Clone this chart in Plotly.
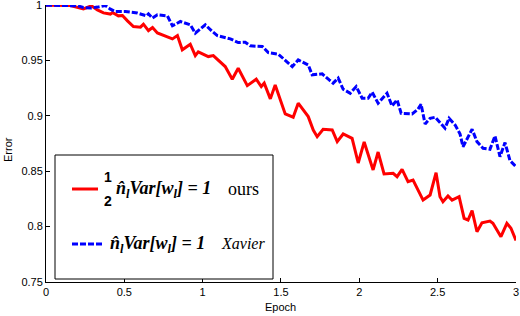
import plotly.graph_objects as go

# ---- data ----
red_epoch = [0.0, 0.156, 0.239, 0.290, 0.328, 0.367, 0.411, 0.424, 0.462, 0.488, 0.520, 0.558,
             0.603, 0.622, 0.654, 0.680, 0.711, 0.775, 0.807, 0.839, 0.870, 0.921, 0.953, 0.972,
             1.036, 1.068, 1.144, 1.189, 1.227, 1.285, 1.342, 1.374, 1.393, 1.432, 1.463, 1.527,
             1.578, 1.610, 1.674, 1.706, 1.731, 1.769, 1.827, 1.859, 1.897, 1.954, 1.993, 2.031,
             2.088, 2.120, 2.158, 2.216, 2.241, 2.273, 2.311, 2.343, 2.407, 2.452, 2.490, 2.515,
             2.534, 2.566, 2.592, 2.637, 2.669, 2.694, 2.720, 2.751, 2.783, 2.834, 2.853, 2.904,
             2.942, 2.968, 3.0]
red_error = [1.000, 0.9997, 0.9967, 0.9995, 0.9958, 0.9931, 0.9920, 0.9934, 0.9904, 0.9907, 0.9859, 0.9807,
             0.9802, 0.9829, 0.9771, 0.9798, 0.9750, 0.9714, 0.9696, 0.9726, 0.9597, 0.9648, 0.9545, 0.9579,
             0.9536, 0.9545, 0.9446, 0.9332, 0.9431, 0.9274, 0.9332, 0.9265, 0.9296, 0.9154, 0.9280, 0.9018,
             0.8988, 0.9115, 0.8994, 0.8873, 0.8813, 0.8880, 0.8873, 0.8768, 0.8837, 0.8798, 0.8575, 0.8765,
             0.8512, 0.8674, 0.8476, 0.8482, 0.8451, 0.8518, 0.8406, 0.8421, 0.8240, 0.8286, 0.8487, 0.8270,
             0.8225, 0.8277, 0.8240, 0.8270, 0.8075, 0.8060, 0.8144, 0.7954, 0.8035, 0.8051, 0.8030, 0.7909,
             0.8030, 0.7985, 0.7875]

blue_epoch = [0.0, 0.201, 0.239, 0.284, 0.328, 0.379, 0.411, 0.443, 0.507, 0.583, 0.641, 0.654,
              0.679, 0.711, 0.775, 0.807, 0.858, 0.921, 0.953, 1.017, 1.062, 1.094, 1.177, 1.227,
              1.272, 1.304, 1.381, 1.419, 1.483, 1.572, 1.610, 1.674, 1.699, 1.763, 1.808, 1.833,
              1.865, 1.897, 1.942, 1.980, 2.018, 2.056, 2.082, 2.120, 2.177, 2.209, 2.241, 2.267,
              2.337, 2.375, 2.394, 2.420, 2.452, 2.484, 2.547, 2.573, 2.611, 2.643, 2.662, 2.720,
              2.751, 2.790, 2.834, 2.866, 2.898, 2.930, 2.962, 3.0]
blue_error = [1.000, 0.9995, 0.9979, 0.9974, 0.9983, 0.9997, 0.9965, 0.9943, 0.9943, 0.9929, 0.9904, 0.9922,
              0.9883, 0.9913, 0.9904, 0.9814, 0.9853, 0.9823, 0.9748, 0.9823, 0.9762, 0.9726, 0.9696, 0.9663,
              0.9666, 0.9633, 0.9627, 0.9572, 0.9558, 0.9446, 0.9506, 0.9461, 0.9371, 0.9380, 0.9325, 0.9296,
              0.9341, 0.9241, 0.9205, 0.9265, 0.9160, 0.9160, 0.9214, 0.9115, 0.9205, 0.9090, 0.9145, 0.9024,
              0.9018, 0.9061, 0.9106, 0.8928, 0.8979, 0.8988, 0.8889, 0.8979, 0.8919, 0.8837, 0.8722, 0.8880,
              0.8768, 0.8708, 0.8699, 0.8819, 0.8632, 0.8759, 0.8596, 0.8542]

x_ticks = [0, 0.5, 1, 1.5, 2, 2.5, 3]
x_tick_labels = ["0", "0.5", "1", "1.5", "2", "2.5", "3"]
y_ticks = [0.75, 0.8, 0.85, 0.9, 0.95, 1]
y_tick_labels = ["0.75", "0.8", "0.85", "0.9", "0.95", "1"]

RED = "#ff0000"
BLUE = "#0000ff"

W, H = 520, 316
ML, MR, MT, MB = 46, 4, 5, 34
PW, PH = W - ML - MR, H - MT - MB


def px(x):
    return (x - ML) / PW


def py(y):
    return (H - MB - y) / PH


fig = go.Figure()
fig.add_trace(go.Scatter(x=red_epoch, y=red_error, mode="lines", cliponaxis=False,
                         line=dict(color=RED, width=3), showlegend=False))
fig.add_trace(go.Scatter(x=blue_epoch, y=blue_error, mode="lines", cliponaxis=False,
                         line=dict(color=BLUE, width=3, dash="6px,2px"), showlegend=False))

axis_font = dict(family="Liberation Sans, Arial, sans-serif", size=11, color="black")
# the top label sits on the figure edge, where Plotly drops it; it is drawn as an annotation below
y_tick_text = y_tick_labels[:-1] + [""]
fig.update_xaxes(range=[0, 3.0002], tickmode="array", tickvals=x_ticks, ticktext=x_tick_labels,
                 automargin=False, showgrid=False, zeroline=False, showline=True,
                 linecolor="black", linewidth=1,
                 ticks="inside", ticklen=4, tickcolor="black", tickfont=axis_font)
fig.update_yaxes(range=[0.75, 1.0002], tickmode="array", tickvals=y_ticks, ticktext=y_tick_text,
                 automargin=False, showgrid=False, zeroline=False, showline=True,
                 linecolor="black", linewidth=1,
                 ticks="inside", ticklen=4, tickcolor="black", tickfont=axis_font)

shapes = [
    dict(type="rect", xref="paper", yref="paper", x0=px(55), x1=px(273), y0=py(279), y1=py(155),
         line=dict(color="black", width=1), fillcolor="white", layer="above"),
    dict(type="line", xref="paper", yref="paper", x0=px(72), x1=px(98), y0=py(189), y1=py(189),
         line=dict(color=RED, width=3), layer="above"),
    dict(type="line", xref="paper", yref="paper", x0=px(72), x1=px(104), y0=py(244), y1=py(244),
         line=dict(color=BLUE, width=3, dash="6px,2px"), layer="above"),
]

serif = "Liberation Serif, Times New Roman, serif"
math_font = dict(family=serif, size=18, color="black")
frac_font = dict(family="Liberation Sans, Arial", size=14, color="black")
annotations = [
    dict(text="<b>1</b>", x=px(108), y=py(177), font=frac_font, xanchor="center", yanchor="middle",
         xref="paper", yref="paper"),
    dict(text="<b>2</b>", x=px(108), y=py(201), font=frac_font, xanchor="center", yanchor="middle",
         xref="paper", yref="paper"),
    dict(text="<b><i>n̂<sub>l</sub>Var[w<sub>l</sub>] = 1</i></b>", x=px(114), y=py(190), font=math_font,
         xanchor="left", yanchor="middle", xref="paper", yref="paper"),
    dict(text="ours", x=px(226), y=py(189), font=dict(family=serif, size=18, color="black"),
         xanchor="left", yanchor="middle", xref="paper", yref="paper"),
    dict(text="<b><i>n̂<sub>l</sub>Var[w<sub>l</sub>] = 1</i></b>", x=px(108), y=py(244), font=math_font,
         xanchor="left", yanchor="middle", xref="paper", yref="paper"),
    dict(text="<i>Xavier</i>", x=px(219), y=py(243), font=dict(family=serif, size=16, color="black"),
         xanchor="left", yanchor="middle", xref="paper", yref="paper"),
    dict(text="Epoch", x=px(280), y=py(307), font=dict(family="Liberation Sans, Arial", size=11, color="black"),
         xanchor="center", yanchor="middle", xref="paper", yref="paper"),
    dict(text="Error", x=px(8), y=py(150), textangle=-90,
         font=dict(family="Liberation Sans, Arial", size=11, color="black"),
         xanchor="center", yanchor="middle", xref="paper", yref="paper"),
    # top y tick label, placed at its data value on the y axis
    dict(text=y_tick_labels[-1], x=px(43), y=y_ticks[-1], xref="paper", yref="y",
         font=axis_font, xanchor="right", yanchor="middle", borderpad=0),
]
for a in annotations:
    a.update(showarrow=False)

fig.update_layout(width=W, height=H, margin=dict(l=ML, r=MR, t=MT, b=MB, autoexpand=False),
                  paper_bgcolor="white", plot_bgcolor="white",
                  shapes=shapes, annotations=annotations, showlegend=False)

fig.write_html("out.html", config={"displayModeBar": False},
               post_script="document.body.style.margin='0';document.body.style.padding='0';"
                           "document.body.style.overflow='hidden';")
